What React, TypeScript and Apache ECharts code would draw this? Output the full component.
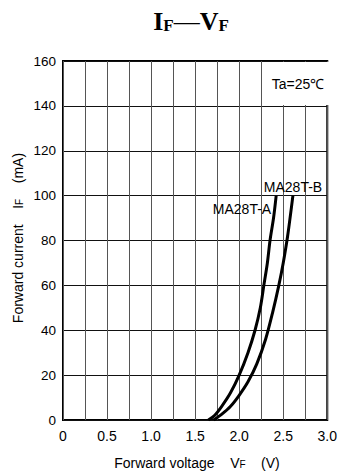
import React, { useEffect, useRef } from "react";
import * as echarts from "echarts";

// Forward voltage (V) vs forward current (mA), Ta = 25°C
const curveA: [number, number][] = [
  [1.65, 0], [1.72, 2], [1.8, 6], [1.9, 12], [2.0, 20], [2.1, 30],
  [2.18, 40], [2.24, 50], [2.28, 60], [2.32, 70], [2.35, 80], [2.39, 90], [2.42, 100],
];
const curveB: [number, number][] = [
  [1.71, 0], [1.8, 2.5], [1.9, 6], [2.0, 11], [2.1, 17], [2.2, 25], [2.3, 36],
  [2.38, 48], [2.45, 60], [2.5, 70], [2.55, 82], [2.61, 100],
];
const seriesNames = ["MA28T-A", "MA28T-B"];
const xTicks = [0, 0.5, 1.0, 1.5, 2.0, 2.5, 3.0];

const SANS = '"Liberation Sans", Arial, Helvetica, sans-serif';
const SERIF = '"Liberation Serif", "Times New Roman", serif';

export default function App() {
  const ref = useRef<HTMLDivElement>(null);

  useEffect(() => {
    if (!ref.current) return;
    const chart = echarts.init(ref.current, undefined, { renderer: "svg" });
    const sub = { fontFamily: SANS, fontSize: 10, lineHeight: 12, verticalAlign: "bottom" as const };
    const main = { fontFamily: SANS, fontSize: 14, lineHeight: 15, verticalAlign: "bottom" as const };

    chart.setOption({
      animation: false,
      backgroundColor: "#fff",
      grid: {
        left: 63, right: 10, top: 61, bottom: 51,
        show: true, borderColor: "#000", borderWidth: 2, backgroundColor: "transparent",
      },
      xAxis: {
        type: "value", min: 0, max: 3, interval: 0.25,
        axisLine: { show: false }, axisTick: { show: false },
        splitLine: { show: true, lineStyle: { color: "#555", width: 1 } },
        axisLabel: {
          margin: 9, color: "#000", fontFamily: SANS, fontSize: 14,
          formatter: (v: number) => {
            const t = xTicks.find((k) => Math.abs(k - v) < 1e-6);
            if (t === undefined) return "";
            return t === 0 ? "0" : t.toFixed(1);
          },
        },
      },
      yAxis: {
        type: "value", min: 0, max: 160, interval: 20,
        axisLine: { show: false }, axisTick: { show: false },
        splitLine: { show: true, lineStyle: { color: "#111", width: 1 } },
        axisLabel: { margin: 7, color: "#000", fontFamily: SANS, fontSize: 13.5 },
      },
      series: [curveA, curveB].map((d, i) => ({
        name: seriesNames[i],
        type: "line",
        data: d,
        smooth: 0.3,
        showSymbol: false,
        lineStyle: { color: "#000", width: 3 },
        z: 3,
      })),
      graphic: [
        // ambient temperature note box
        { type: "rect", shape: { x: 264, y: 62, width: 65, height: 43 }, style: { fill: "#fff" }, z: 10 },
        {
          type: "text", x: 298, y: 84, z: 11,
          style: { text: "Ta=25℃", font: `14px ${SANS}`, fill: "#000", align: "center", verticalAlign: "middle" },
        },
        // curve labels
        {
          type: "text", x: 293, y: 187, z: 11,
          style: { text: seriesNames[1], font: `14px ${SANS}`, fill: "#000", align: "center", verticalAlign: "middle" },
        },
        {
          type: "text", x: 242, y: 209, z: 11,
          style: { text: seriesNames[0], font: `14px ${SANS}`, fill: "#000", align: "center", verticalAlign: "middle" },
        },
        // title
        {
          type: "text", x: 191, y: 20, z: 11,
          style: {
            text: "{a|I}{s|F}{d|—}{a|V}{s|F}",
            align: "center", verticalAlign: "middle", fill: "#000",
            rich: {
              a: { fontFamily: SERIF, fontWeight: "bold", fontSize: 26, lineHeight: 28, verticalAlign: "bottom" },
              d: { fontFamily: SERIF, fontWeight: "normal", fontSize: 26, lineHeight: 28, verticalAlign: "bottom" },
              s: { fontFamily: SERIF, fontWeight: "bold", fontSize: 17, lineHeight: 17, verticalAlign: "bottom" },
            },
          },
        },
        // x axis title
        {
          type: "text", x: 197, y: 462, z: 11,
          style: {
            text: "{m|Forward voltage    V}{s|F}{m|    (V)}",
            align: "center", verticalAlign: "middle", fill: "#000",
            rich: { m: main, s: sub },
          },
        },
        // y axis title
        {
          type: "text", x: 17, y: 238, z: 11, rotation: Math.PI / 2,
          style: {
            text: "{m|Forward current    I}{s|F}{m|    (mA)}",
            align: "center", verticalAlign: "middle", fill: "#000",
            rich: { m: main, s: sub },
          },
        },
      ],
    });
    return () => chart.dispose();
  }, []);

  return (
    <div
      ref={ref}
      style={{ position: "fixed", left: 0, top: 0, width: 340, height: 471, background: "#fff" }}
    />
  );
}
